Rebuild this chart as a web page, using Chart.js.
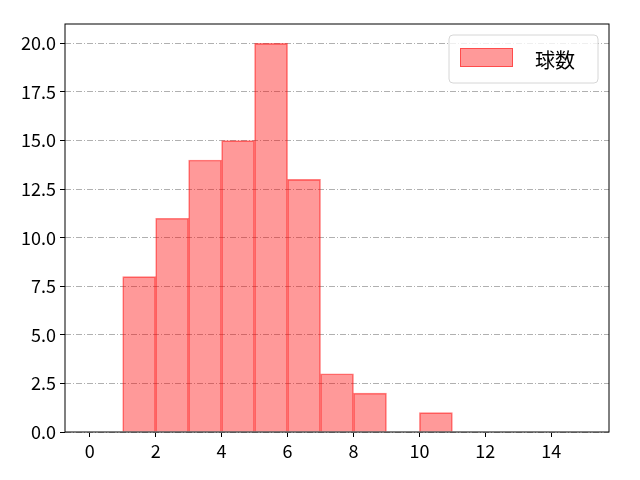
<!DOCTYPE html>
<html>
<head>
<meta charset="utf-8">
<script src="https://cdn.jsdelivr.net/npm/chart.js@4/dist/chart.umd.min.js"></script>
<style>
  html, body { margin: 0; padding: 0; background: #fff; }
  #wrap { width: 640px; height: 480px; }
</style>
</head>
<body>
<div id="wrap"><canvas id="c" width="640" height="480"></canvas></div>
<script>
const FONT = "'Noto Sans CJK JP', 'DejaVu Sans', sans-serif";

// histogram bins (left edge) and counts
const binStarts = [1, 2, 3, 4, 5, 6, 7, 8, 9, 10];
const counts = [8, 11, 14, 15, 20, 13, 3, 2, 0, 1];
const seriesLabel = "球数";
const xTicks = [0, 2, 4, 6, 8, 10, 12, 14];
const yTicks = [0, 2.5, 5, 7.5, 10, 12.5, 15, 17.5, 20];

const points = binStarts.map((b, i) => ({ x: b + 0.5, y: counts[i] }));

// frame round the plot area
const frame = {
  id: "frame",
  afterDraw(chart) {
    const { ctx, chartArea: a } = chart;
    ctx.save();
    ctx.strokeStyle = "#000";
    ctx.lineWidth = 1;
    ctx.strokeRect(a.left, a.top, a.right - a.left, a.bottom - a.top);
    ctx.restore();
  }
};

// matplotlib-like legend box in the upper right
const legendBox = {
  id: "legendBox",
  afterDraw(chart) {
    const { ctx, chartArea: a } = chart;
    const ds = chart.data.datasets[0];
    const w = 149, h = 48;
    const x = a.right - 11 - w, y = a.top + 11;
    ctx.save();
    ctx.beginPath();
    ctx.roundRect(x, y, w, h, 4);
    ctx.fillStyle = "rgba(255,255,255,0.8)";
    ctx.fill();
    ctx.strokeStyle = "#d6d6d6";
    ctx.lineWidth = 1;
    ctx.stroke();
    ctx.fillStyle = ds.backgroundColor;
    ctx.fillRect(x + 11, y + 13, 53, 19);
    ctx.strokeStyle = ds.borderColor;
    ctx.strokeRect(x + 11.5, y + 13.5, 52, 18);
    ctx.fillStyle = "#000";
    ctx.font = "20px " + FONT;
    ctx.textBaseline = "middle";
    ctx.fillText(ds.label, x + 86, y + h / 2 + 1);
    ctx.restore();
  }
};

new Chart(document.getElementById("c"), {
  type: "bar",
  data: {
    datasets: [{
      label: seriesLabel,
      data: points,
      backgroundColor: "rgba(255,0,0,0.4)",
      borderColor: "rgba(255,0,0,0.5)",
      borderWidth: 1,
      barPercentage: 1,
      categoryPercentage: 1
    }]
  },
  options: {
    responsive: false,
    animation: false,
    layout: { padding: { top: 24, right: 31, left: 0, bottom: 0 } },
    plugins: { legend: { display: false }, tooltip: { enabled: false } },
    scales: {
      x: {
        type: "linear",
        offset: false,
        min: -0.75,
        max: 15.75,
        afterBuildTicks: (s) => { s.ticks = xTicks.map(v => ({ value: v })); },
        afterFit: (s) => { s.height = 48; },
        grid: { drawOnChartArea: false, offset: false, tickLength: 5, color: "#000" },
        border: { display: false },
        ticks: {
          color: "#000",
          padding: 3,
          maxRotation: 0,
          font: { family: FONT, size: 18 },
          callback: (v) => String(v)
        }
      },
      y: {
        min: 0,
        max: 21,
        afterBuildTicks: (s) => { s.ticks = yTicks.map(v => ({ value: v })); },
        afterFit: (s) => { s.width = 65; },
        grid: {
          color: "#b0b0b0",
          tickLength: 5,
          tickColor: "#000",
          tickBorderDash: []
        },
        border: { display: false, dash: [6, 2, 1, 2] },
        ticks: {
          color: "#000",
          padding: 4,
          font: { family: FONT, size: 18 },
          callback: (v) => v.toFixed(1)
        }
      }
    }
  },
  plugins: [frame, legendBox]
});
</script>
</body>
</html>
